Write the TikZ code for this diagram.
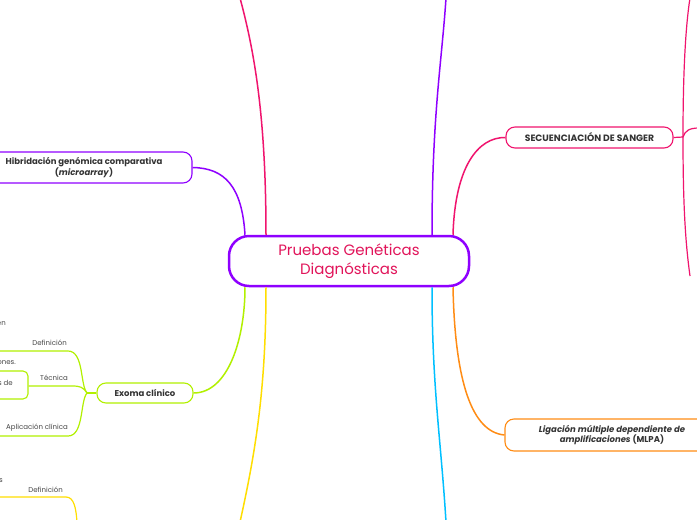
\documentclass[tikz,border=0pt]{standalone}
\usepackage{fontspec}
\setmainfont{Poppins}
\usetikzlibrary{calc}
\definecolor{cpurple}{RGB}{143,0,255}
\definecolor{cpink}{RGB}{240,20,110}
\definecolor{ctitle}{RGB}{225,20,90}
\definecolor{clime}{RGB}{178,240,0}
\definecolor{cyellow}{RGB}{255,222,0}
\definecolor{ccyan}{RGB}{0,192,255}
\definecolor{corange}{RGB}{255,140,20}
\definecolor{ctext}{RGB}{51,51,51}
\definecolor{clabel}{RGB}{70,70,70}
\tikzset{
  rootbox/.style={draw=cpurple, line width=2.5pt, fill=white, rounded corners=20pt,
    minimum width=240pt, minimum height=50pt, inner sep=0pt, align=center,
    text=ctitle, font=\fontsize{15}{19}\selectfont},
  topicbox/.style={line width=1.1pt, fill=white, rounded corners=9pt, inner sep=0pt,
    align=center, text=ctext, font=\bfseries\fontsize{8.5}{10.5}\selectfont},
  branch/.style={line width=1.5pt},
  subbranch/.style={line width=1.2pt},
  lbl/.style={inner sep=0pt, text=clabel, font=\fontsize{7}{8}\selectfont}
}
\begin{document}
\begin{tikzpicture}[x=1pt,y=-1pt]
\clip (0,0) rectangle (697,520);
\fill[white] (0,0) rectangle (697,520);

% nodes
\node[rootbox] (root) at (349,261) {Pruebas Genéticas\\Diagnósticas};
\node[topicbox, draw=cpurple, minimum width=216pt, minimum height=31pt] (hib) at (84,167.5)
  {Hibridación genómica comparativa\\(\textit{microarray})};
\node[topicbox, draw=cpink, minimum width=167pt, minimum height=21pt, font=\bfseries\fontsize{9.2}{11}\selectfont] (sanger) at (589.5,137.5)
  {SECUENCIACIÓN DE SANGER};
\node[topicbox, draw=corange, minimum width=214pt, minimum height=32pt] (mlpa) at (612,435)
  {\textit{Ligación múltiple dependiente de}\\\textit{amplificaciones} (MLPA)};
\node[topicbox, draw=clime, minimum width=96pt, minimum height=20pt] (exoma) at (145,393)
  {Exoma clínico};
\node[draw=clime, line width=1.1pt, rounded corners=5pt, minimum width=48pt, minimum height=28pt, inner sep=0pt] (tecbox) at (4,385) {};

% off-canvas ends and junctions
\coordinate (topL) at (240,-2);
\coordinate (topR) at (446,-2);
\coordinate (botL) at (240,522);
\coordinate (botR) at (446,522);
\coordinate (sj) at (683,137);
\coordinate (sUp) at (690,-2);
\coordinate (sDown) at (690,276);
\coordinate (sRight) at (699,128);
\coordinate (ej) at (87,393);
\coordinate (defEnd) at (-2,351);
\coordinate (aplEnd) at (-2,436);
\coordinate (yDefEnd) at (-2,497);
\coordinate (yDown) at (77,522);

% main connectors
\draw[branch, cpink] ($(root.north)+(-83,0)$) .. controls +(0,-120) and (254,50) .. (topL);
\draw[branch, cpurple] ($(root.north)+(83,0)$) .. controls +(0,-120) and (442,60) .. (topR);
\draw[branch, cpurple] ($(root.north)+(-104,0)$) .. controls +(-3,-48) and (225,168) .. (hib.east);
\draw[branch, cpink] ($(root.north)+(104,0)$) .. controls +(2,-68) and (478,137) .. (sanger.west);
\draw[branch, clime] ($(root.south)+(-104,0)$) .. controls +(0,52) and (228,393) .. (exoma.east);
\draw[branch, cyellow] ($(root.south)+(-83,0)$) .. controls +(0,100) and (256,450) .. (botL);
\draw[branch, ccyan] ($(root.south)+(83,0)$) .. controls +(0,100) and (441,440) .. (botR);
\draw[branch, corange] ($(root.south)+(104,0)$) .. controls +(2,95) and (472,432) .. (mlpa.west);

% Sanger sub-branches
\draw[subbranch, cpink] (sanger.east) -- (sj);
\draw[subbranch, cpink] (sj) .. controls (683,80) and (685,30) .. (sUp);
\draw[subbranch, cpink] (sj) .. controls (683,200) and (685,240) .. (sDown);
\draw[subbranch, cpink] (sj) .. controls (685,131) and (689,128) .. (sRight);

% Exoma sub-branches
\draw[subbranch, clime] (exoma.west) -- (ej);
\draw[subbranch, clime] (ej) .. controls (80,385) and (84,351) .. (68,351) -- (defEnd);
\draw[subbranch, clime] (ej) .. controls (80,401) and (84,436) .. (68,436) -- (aplEnd);
\draw[subbranch, clime] (ej) .. controls (83,387) and (80,386) .. (72,386) -- (tecbox.east |- 0,386);

% yellow sub-branch
\draw[subbranch, cyellow] (yDefEnd) -- (66,497) .. controls (74,497) and (76,508) .. (yDown);

% labels
\node[lbl, anchor=east] (l1) at (67,343) {Definición};
\node[lbl] (l2) at (54,378) {Técnica};
\node[lbl] (l3) at (37,428) {Aplicación clínica};
\node[lbl, anchor=east] (l4) at (6,324) {en};
\node[lbl, anchor=east] (l5) at (16,363) {ones.};
\node[lbl, anchor=east] (l6) at (13,383) {s de};
\node[lbl, anchor=east] (l7) at (3,481) {s};
\node[lbl, anchor=east] (l8) at (63,490) {Definición};
\end{tikzpicture}
\end{document}
